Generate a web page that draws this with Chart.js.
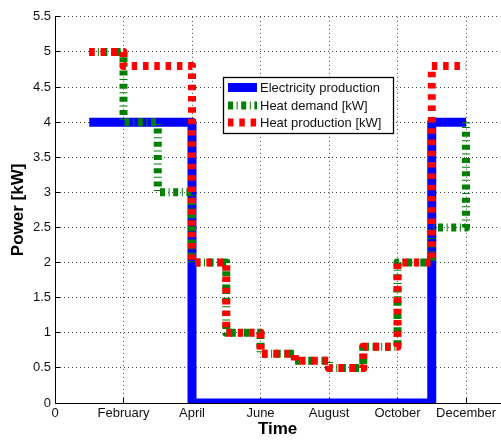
<!DOCTYPE html>
<html>
<head>
<meta charset="utf-8">
<script src="https://cdn.jsdelivr.net/npm/chart.js@4/dist/chart.umd.min.js"></script>
<style>
  html, body { margin: 0; padding: 0; overflow: hidden; background: #fff; }
  #wrap { position: relative; width: 504px; height: 441px; }
</style>
</head>
<body>
<div id="wrap"><canvas id="myChart"></canvas></div>
<script>
// Month index (x) for each step
const months = [1, 2, 3, 4, 5, 6, 7, 8, 9, 10, 11, 12];

// Series values in kW
const electricity = [4, 4, 4, 0, 0, 0, 0, 0, 0, 0, 4, 4];
const heatDemand = [5, 4, 3, 2, 1, 0.7, 0.6, 0.5, 0.8, 2, 2.5, 4];
const heatProduction = [5, 4.8, 4.8, 2, 1, 0.7, 0.6, 0.5, 0.8, 2, 4.8, 4.8];

const seriesNames = ['Electricity production', 'Heat demand [kW]', 'Heat production [kW]'];

// Tick labels
const xTicks = [0, 2, 4, 6, 8, 10, 12];
const xTickLabels = ['0', 'February', 'April', 'June', 'August', 'October', 'December'];
const yTicks = [0, 0.5, 1, 1.5, 2, 2.5, 3, 3.5, 4, 4.5, 5, 5.5];
const yTickLabels = ['0', '0.5', '1', '1.5', '2', '2.5', '3', '3.5', '4', '4.5', '5', '5.5'];

const FONT = "'Liberation Sans', Arial, sans-serif";

function toPoints(values) {
  return months.map((m, i) => ({ x: m, y: values[i] }));
}

// Legend drawn inside the plot, like the original figure
const boxLegend = {
  id: 'boxLegend',
  afterDraw(chart) {
    const ctx = chart.ctx;
    const left = 223.5, top = 77.5, w = 170, h = 56;
    const rows = [87.5, 105.5, 122.5];
    ctx.save();
    ctx.fillStyle = '#fff';
    ctx.fillRect(left, top, w, h);
    ctx.strokeStyle = '#000';
    ctx.lineWidth = 1.3;
    ctx.strokeRect(left, top, w, h);

    // legend follows the original series order
    const ds = chart.data.datasets;
    seriesNames.forEach((name, i) => {
      const d = ds.find((x) => x.label === name);
      ctx.beginPath();
      ctx.setLineDash(d.borderDash || []);
      ctx.lineWidth = d.borderWidth;
      ctx.strokeStyle = d.borderColor;
      ctx.lineCap = 'butt';
      ctx.moveTo(228, rows[i]);
      ctx.lineTo(257, rows[i]);
      ctx.stroke();
      ctx.setLineDash([]);
      ctx.fillStyle = '#111';
      ctx.font = '13px ' + FONT;
      ctx.textBaseline = 'middle';
      ctx.textAlign = 'left';
      ctx.fillText(name, 260, rows[i] + 0.5);
    });
    ctx.restore();
  }
};

function loadChart() {
  const ctx = document.getElementById('myChart').getContext('2d');
  const common = { stepped: true, pointRadius: 0, fill: false, clip: 0, borderJoinStyle: 'round', borderCapStyle: 'butt' };

  new Chart(ctx, {
    type: 'line',
    data: {
      datasets: [
        Object.assign({
          label: seriesNames[2],
          data: toPoints(heatProduction),
          borderColor: '#ff0000',
          borderWidth: 8,
          borderDash: [5.5, 5.8],
          order: 1
        }, common),
        Object.assign({
          label: seriesNames[1],
          data: toPoints(heatDemand),
          borderColor: '#008000',
          borderWidth: 8,
          borderDash: [5, 3.6, 1, 3.6],
          order: 2
        }, common),
        Object.assign({
          label: seriesNames[0],
          data: toPoints(electricity),
          borderColor: '#0000ff',
          borderWidth: 9,
          order: 3
        }, common)
      ]
    },
    options: {
      responsive: true,
      maintainAspectRatio: false,
      animation: false,
      layout: { padding: 0 },
      plugins: { legend: { display: false }, tooltip: { enabled: false } },
      scales: {
        x: {
          type: 'linear',
          min: 0,
          max: 13,
          afterBuildTicks: (scale) => { scale.ticks = xTicks.map((v) => ({ value: v })); },
          afterFit: (scale) => { scale.height = 38; },
          ticks: {
            callback: (v, i) => xTickLabels[i],
            color: '#111',
            font: { family: FONT, size: 13 },
            padding: 8,
            maxRotation: 0
          },
          grid: { color: '#444', lineWidth: 1, tickLength: -5, tickColor: '#000' },
          border: { color: '#000', width: 1, dash: [1, 3] },
          title: {
            display: true,
            text: 'Time',
            color: '#000',
            font: { family: FONT, size: 17, weight: 'bold' },
            padding: { top: 0, bottom: 1 }
          }
        },
        y: {
          min: 0,
          max: 5.5,
          afterBuildTicks: (scale) => { scale.ticks = yTicks.map((v) => ({ value: v })); },
          afterFit: (scale) => { scale.width = 55; },
          ticks: {
            callback: (v, i) => yTickLabels[i],
            color: '#111',
            font: { family: FONT, size: 13 },
            padding: 9
          },
          grid: { color: '#444', lineWidth: 1, tickLength: -5, tickColor: '#000' },
          border: { color: '#000', width: 1, dash: [1, 3] },
          title: {
            display: true,
            text: 'Power [kW]',
            color: '#000',
            font: { family: FONT, size: 17, weight: 'bold' },
            padding: { top: 8, bottom: 0 }
          }
        }
      }
    },
    plugins: [boxLegend]
  });
}

document.addEventListener('DOMContentLoaded', () => {
  loadChart();
});
</script>
</body>
</html>
